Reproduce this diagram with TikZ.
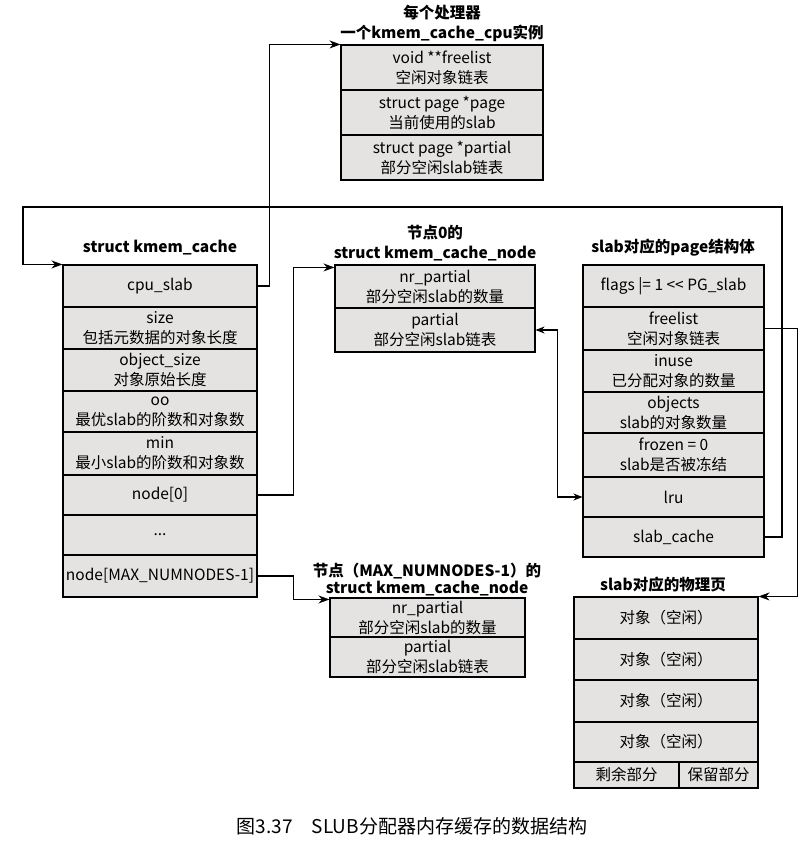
\documentclass[tikz,border=0pt]{standalone}
\usepackage{fontspec}
\setmainfont{Noto Sans CJK SC}
\usetikzlibrary{arrows.meta,calc}
\definecolor{rowgray}{RGB}{229,226,226}
\begin{document}
\begin{tikzpicture}[x=1pt,y=-1pt,
  row/.style={draw, fill=rowgray, line width=1.1pt, inner sep=0pt, align=center, font=\fontsize{15.5}{20}\selectfont},
  ttl/.style={font=\bfseries\fontsize{15.5}{19}\selectfont, inner sep=0pt},
  arr/.style={-{Stealth[length=11pt,width=8pt]}, line width=1.1pt},
  arrb/.style={{Stealth[length=9pt,width=7pt]}-{Stealth[length=9pt,width=7pt]}, line width=1.1pt}]
\useasboundingbox (0,0) rectangle (808,842);

% top box: kmem_cache_cpu
\node[ttl] (t1) at (442,13) {每个处理器};
\node[ttl] (t2) at (442,33) {一个kmem\_cache\_cpu实例};
\node[row, minimum width=202pt, minimum height=45pt] (fl) at (442,67.5) {void **freelist\\空闲对象链表};
\node[row, minimum width=202pt, minimum height=45pt] (pg) at (442,112.5) {struct page *page\\当前使用的slab};
\node[row, minimum width=202pt, minimum height=45pt] (pt) at (442,157.5) {struct page *partial\\部分空闲slab链表};

% left box: kmem_cache
\node[ttl] (t3) at (160,248) {struct kmem\_cache};
\node[row, minimum width=194pt, minimum height=42pt] (cpu) at (160,286) {cpu\_slab};
\node[row, minimum width=194pt, minimum height=42pt] (size) at (160,328) {size\\包括元数据的对象长度};
\node[row, minimum width=194pt, minimum height=42pt] (osz) at (160,370) {object\_size\\对象原始长度};
\node[row, minimum width=194pt, minimum height=41pt] (oo) at (160,411.5) {oo\\最优slab的阶数和对象数};
\node[row, minimum width=194pt, minimum height=43pt] (min) at (160,453.5) {min\\最小slab的阶数和对象数};
\node[row, minimum width=194pt, minimum height=40pt] (n0) at (160,495) {node[0]};
\node[row, minimum width=194pt, minimum height=40pt] (dots) at (160,535) {...};
\node[row, minimum width=194pt, minimum height=42pt] (nN) at (160,576) {node[MAX\_NUMNODES-1]};

% node 0
\node[ttl] (t4) at (435,233) {节点0的};
\node[ttl] (t5) at (435,254) {struct kmem\_cache\_node};
\node[row, minimum width=200pt, minimum height=43pt] (nr0) at (435,286.5) {nr\_partial\\部分空闲slab的数量};
\node[row, minimum width=200pt, minimum height=44pt] (pa0) at (435,330) {partial\\部分空闲slab链表};

% node MAX-1
\node[ttl] (t6) at (427,571) {节点（MAX\_NUMNODES-1）的};
\node[ttl] (t7) at (427,589) {struct kmem\_cache\_node};
\node[row, minimum width=195pt, minimum height=39pt] (nrN) at (427.5,617.5) {nr\_partial\\部分空闲slab的数量};
\node[row, minimum width=195pt, minimum height=40pt] (paN) at (427.5,657) {partial\\部分空闲slab链表};

% page struct
\node[ttl] (t8) at (673,248) {slab对应的page结构体};
\node[row, minimum width=181pt, minimum height=42pt] (flags) at (673.5,286) {flags |= 1 {<}{<} PG\_slab};
\node[row, minimum width=181pt, minimum height=43pt] (pfl) at (673.5,328.5) {freelist\\空闲对象链表};
\node[row, minimum width=181pt, minimum height=42pt] (inuse) at (673.5,371) {inuse\\已分配对象的数量};
\node[row, minimum width=181pt, minimum height=41pt] (objs) at (673.5,412.5) {objects\\slab的对象数量};
\node[row, minimum width=181pt, minimum height=44pt] (frz) at (673.5,455) {frozen = 0\\slab是否被冻结};
\node[row, minimum width=181pt, minimum height=40pt] (lru) at (673.5,497) {lru};
\node[row, minimum width=181pt, minimum height=40pt] (sc) at (673.5,537) {slab\_cache};

% physical pages
\node[ttl] (t9) at (663,585) {slab对应的物理页};
\node[row, minimum width=184pt, minimum height=42pt] (o1) at (666,618) {对象（空闲）};
\node[row, minimum width=184pt, minimum height=41pt] (o2) at (666,659.5) {对象（空闲）};
\node[row, minimum width=184pt, minimum height=42pt] (o3) at (666,701) {对象（空闲）};
\node[row, minimum width=184pt, minimum height=40pt] (o4) at (666,742) {对象（空闲）};
\node[row, minimum width=105pt, minimum height=26pt] (rem) at (626.5,775) {剩余部分};
\node[row, minimum width=79pt, minimum height=26pt] (res) at (718.5,775) {保留部分};

% caption
\node[font=\fontsize{19}{23}\selectfont, inner sep=0pt] (cap) at (412,826) {图3.37\hspace{1em}SLUB分配器内存缓存的数据结构};

% connectors
\coordinate (lpR) at (782,207);
\coordinate (lpL) at (23,207);
\draw[arr] (cpu.east) -- ++(12,0) |- (fl.north west);
\draw[arr] (sc.east) -| (lpR) -- (lpL) |- (cpu.north west);
\draw[arr] (pfl.east) -- ++(33,0) |- (o1.north east);
\draw[arr] (n0.east) -- ++(36,0) |- ($(nr0.north west)+(0,3)$);
\draw[arr] (nN.east) -- ++(36,0) |- ($(nrN.north west)+(0,2)$);
\draw[arrb] (pa0.east) -- ++(22,0) |- (lru.west);
\end{tikzpicture}
\end{document}
